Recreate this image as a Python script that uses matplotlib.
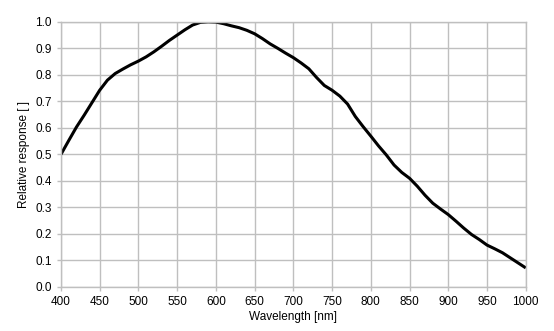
import numpy as np
import matplotlib
matplotlib.use("Agg")
import matplotlib.pyplot as plt

# Spectral response values
wavelength = [400, 410, 420, 430, 440, 450, 460, 470, 480, 490,
              500, 510, 520, 530, 540, 550, 560, 570, 580, 590,
              600, 610, 620, 630, 640, 650, 660, 670, 680, 690,
              700, 710, 720, 730, 740, 750, 760, 770, 780, 790,
              800, 810, 820, 830, 840, 850, 860, 870, 880, 890,
              900, 910, 920, 930, 940, 950, 960, 970, 980, 990, 1000]
response = [0.500, 0.552, 0.603, 0.648, 0.695, 0.742, 0.780, 0.805, 0.822, 0.838,
            0.852, 0.868, 0.887, 0.908, 0.930, 0.950, 0.970, 0.988, 0.998, 1.000,
            0.999, 0.993, 0.985, 0.978, 0.968, 0.955, 0.937, 0.917, 0.900, 0.882,
            0.865, 0.845, 0.823, 0.790, 0.760, 0.742, 0.720, 0.690, 0.643, 0.605,
            0.569, 0.532, 0.498, 0.460, 0.432, 0.410, 0.380, 0.346, 0.316, 0.294,
            0.273, 0.248, 0.222, 0.198, 0.179, 0.158, 0.144, 0.129, 0.110, 0.091, 0.072]

x_ticks = np.arange(400, 1001, 50)
y_ticks = np.arange(0, 1.01, 0.1)

plt.rcParams["font.family"] = ["Liberation Sans", "DejaVu Sans"]

fig = plt.figure(figsize=(5.54, 3.31), dpi=100)
ax = fig.add_axes([0.110, 0.133, 0.839, 0.801])

ax.plot(wavelength, response, color="black", linewidth=2.2, solid_capstyle="butt")

ax.set_xlim(400, 1000)
ax.set_ylim(0, 1.0)
ax.set_xticks(x_ticks)
ax.set_yticks(y_ticks)
ax.set_yticklabels([f"{v:.1f}" for v in y_ticks])
ax.grid(True, color="#bfbfbf", linewidth=1.0)
ax.set_axisbelow(True)
for s in ax.spines.values():
    s.set_color("#bfbfbf")
    s.set_linewidth(1.0)
ax.tick_params(colors="#bfbfbf", labelcolor="black", labelsize=8.5, length=3, width=1)

ax.set_xlabel("Wavelength [nm]", fontsize=8.5, labelpad=2)
ax.set_ylabel("Relative response [ ]", fontsize=8.5, labelpad=4)

fig.savefig("out.png", dpi=100)
